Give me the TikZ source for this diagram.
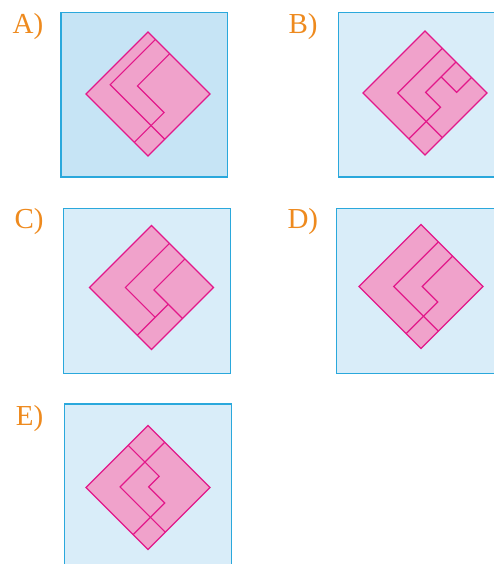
\documentclass[tikz,border=0pt]{standalone}
\usepackage{fontspec}
\setmainfont{Liberation Serif}
\definecolor{boxline}{HTML}{2AA8DC}
\definecolor{boxfillA}{HTML}{C6E4F5}
\definecolor{boxfill}{HTML}{D9EDF9}
\definecolor{pinkfill}{HTML}{F0A2CB}
\definecolor{pinkline}{HTML}{E2188A}
\definecolor{labelor}{HTML}{EE8A1E}
\tikzset{
  panelbox/.style={draw=boxline,line width=1.4pt,fill=boxfill},
  piece/.style={draw=pinkline,line width=1.1pt,line join=miter},
  diamondshape/.style={piece,fill=pinkfill},
  optlabel/.style={anchor=base west,inner sep=0pt,text=labelor,font=\fontsize{29}{30}\selectfont},
  dia/.style={x={(62pt,62pt)},y={(62pt,-62pt)}}
}
\begin{document}
\begin{tikzpicture}[x=1pt,y=-1pt]
\useasboundingbox (0,0) rectangle (494,564);
\begin{scope}
\clip (0,0) rectangle (494,564);
% boxes
\fill[boxfillA,draw=boxline,line width=1.4pt] (61,12.3) rectangle (227.5,177);
\draw[panelbox] (338.3,12.3) rectangle (505,177);
\draw[panelbox] (63.3,208.3) rectangle (230.7,373.3);
\draw[panelbox] (336.7,208.3) rectangle (505,373.3);
\draw[panelbox] (64.3,404) rectangle (231.7,575);

% labels
\node[optlabel] (la) at (12.5,33.5) {A)};
\node[optlabel] (lb) at (288.3,33.5) {B)};
\node[optlabel] (lc) at (14.3,228.5) {C)};
\node[optlabel] (ld) at (287.3,228.5) {D)};
\node[optlabel] (le) at (15.7,425) {E)};

% A
\begin{scope}[shift={(86,94)},dia]
\draw[diamondshape] (0,0) -- (1,0) -- (1,1) -- (0,1) -- cycle;
\draw[piece] (1,0.12) -- (0.27,0.12) -- (0.27,1);
\draw[piece] (1,0.35) -- (0.48,0.35) -- (0.48,0.78) -- (0,0.78);
\end{scope}

% B
\begin{scope}[shift={(363,93)},dia]
\draw[diamondshape] (0,0) -- (1,0) -- (1,1) -- (0,1) -- cycle;
\draw[piece] (1,0.28) -- (0.28,0.28) -- (0.28,1);
\draw[piece] (1,0.5) -- (0.51,0.5) -- (0.51,0.74) -- (0,0.74);
\draw[piece] (0.76,0.5) -- (0.76,0.75) -- (1,0.75);
\end{scope}

% C
\begin{scope}[shift={(89.5,287.5)},dia]
\draw[diamondshape] (0,0) -- (1,0) -- (1,1) -- (0,1) -- cycle;
\draw[piece] (1,0.29) -- (0.29,0.29) -- (0.29,0.77);
\draw[piece] (0,0.77) -- (0.5,0.77);
\draw[piece] (1,0.54) -- (0.5,0.54) -- (0.5,1);
\end{scope}

% D
\begin{scope}[shift={(359,286.5)},dia]
\draw[diamondshape] (0,0) -- (1,0) -- (1,1) -- (0,1) -- cycle;
\draw[piece] (1,0.28) -- (0.28,0.28) -- (0.28,1);
\draw[piece] (1,0.51) -- (0.51,0.51) -- (0.51,0.76) -- (0,0.76);
\end{scope}

% E
\begin{scope}[shift={(86,487.5)},dia]
\draw[diamondshape] (0,0) -- (1,0) -- (1,1) -- (0,1) -- cycle;
\draw[piece] (1,0.27) -- (0.28,0.27) -- (0.28,1);
\draw[piece] (0.68,0) -- (0.68,0.5) -- (0.51,0.5) -- (0.51,0.76) -- (0,0.76);
\end{scope}
\end{scope}
\end{tikzpicture}
\end{document}
